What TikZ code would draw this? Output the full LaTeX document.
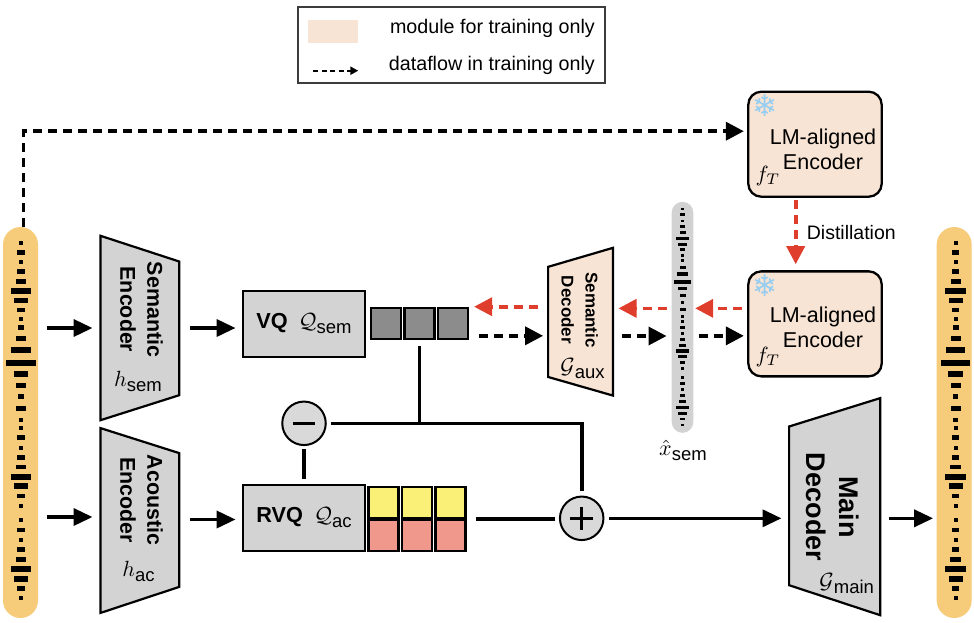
\RequirePackage{fix-cm}
\documentclass[tikz,border=0pt]{standalone}
\usepackage{graphicx}
\usepackage{fontspec}
\setmainfont{Liberation Sans}
\newfontfamily\dejavu{DejaVu Sans}
\usetikzlibrary{arrows.meta,calc}

\definecolor{peach}{RGB}{248,228,212}
\definecolor{boxgray}{RGB}{211,211,211}
\definecolor{codegray}{RGB}{140,140,140}
\definecolor{codeyellow}{RGB}{250,240,120}
\definecolor{codered}{RGB}{240,152,140}
\definecolor{myred}{RGB}{224,62,45}
\definecolor{pillorange}{RGB}{246,203,122}
\definecolor{circgray}{RGB}{217,217,217}
\definecolor{bargray}{RGB}{210,210,210}
\definecolor{snowblue}{RGB}{150,205,240}
\definecolor{legendgray}{RGB}{60,60,60}

\newcommand\sbs[1]{\raisebox{-5pt}{\fontsize{18.5}{19}\selectfont #1}}
\newcommand\fsz[2]{\fontsize{#1}{#2}\selectfont}
\newcommand\mth[1]{\scalebox{2.2}{\fontsize{10}{12}\selectfont$#1$}}

\newcommand\wavebars[4]{%
  \foreach \dy/\w in {0/4, 9.6/7.3, 19.6/4, 29/7.3, 39/10, 48.3/20.7, 58/14, 67.3/7.3,
     76.6/4, 85/6, 96/10, 107.3/19.3, 120/29.3, 131.3/14.7, 142.6/10, 154/5.3, 166/10,
     177.3/4.7, 185/4, 195/7.3, 205.3/4, 214.6/7.3, 224.3/10.7, 234/20.7, 243.3/14,
     253.3/7.3, 263/4, 277.3/4, 287.3/7.3, 297.3/4, 307/7.3, 316.6/10.7, 326.6/20.7,
     336.3/14, 346/7.3, 355.6/4}{%
    \pgfmathsetmacro\hh{(4+0.08*\w)*#4/2}%
    \fill ({#1-\w*#4/2},{#2+\dy*#3-\hh}) rectangle ({#1+\w*#4/2},{#2+\dy*#3+\hh});
  }%
}

\tikzset{
  line/.style={line width=3.6pt},
  flow/.style={line width=3.6pt,-{Triangle[length=19pt,width=17pt]}},
  dflow/.style={line width=3.6pt,dash pattern=on 9pt off 6pt,-{Triangle[length=18pt,width=18pt]}},
  rflow/.style={dflow,draw=myred},
  pill/.style={draw=none,inner sep=0pt,rounded corners=17.5pt},
  qbox/.style={draw,line width=2.3pt,fill=boxgray,inner sep=0pt,minimum width=122.6pt,minimum height=66pt},
  code/.style={draw,line width=2.2pt,inner sep=0pt,minimum width=30pt,minimum height=31pt},
  opcirc/.style={circle,draw,line width=2pt,fill=circgray,minimum size=43.5pt,inner sep=0pt},
  frame/.style={inner sep=0pt,draw=none},
  trap/.style={draw,line width=2.2pt,line join=miter},
  lmbox/.style={draw,line width=2.3pt,fill=peach,rounded corners=13pt,inner sep=0pt,minimum width=133.4pt,minimum height=105pt},
  lmtext/.style={align=center,font=\fsz{21.5}{25}},
  enctext/.style={rotate=-90,align=center,font=\bfseries\fsz{21.4}{27}},
  mathlbl/.style={font=\fsz{22}{22},inner sep=0pt},
  snow/.style={text=snowblue,font=\dejavu\fsz{30}{30},inner sep=0pt},
}

\begin{document}
\begin{tikzpicture}[x=1pt,y=-1pt]
\useasboundingbox (0,0) rectangle (974,622);

% ---------- legend ----------
\node[draw=legendgray,line width=1.5pt,minimum width=307pt,minimum height=76pt,inner sep=0pt] (legend) at (451.5,45) {};
\node[fill=peach,minimum width=50pt,minimum height=23.3pt,inner sep=0pt] (swatch) at (333.3,31.7) {};
\node[anchor=base east,font=\fsz{19.7}{24},inner sep=0pt] (legA) at (595,33.3) {module for training only};
\node[anchor=base east,font=\fsz{19.7}{24},inner sep=0pt] (legB) at (595,70.7) {dataflow in training only};
\coordinate (legS) at (313.3,70.7);
\coordinate (legE) at (358.3,70.7);
\draw[line width=2pt,dash pattern=on 5pt off 3.5pt,-{Triangle[length=8pt,width=8pt]}] (legS) -- (legE);

% ---------- waveforms ----------
\node[pill,fill=pillorange,minimum width=35pt,minimum height=391pt] (wavel) at (20.5,422.5) {};
\wavebars{21}{242.7}{1}{1}
\node[pill,fill=pillorange,minimum width=35pt,minimum height=391pt] (waver) at (954.2,422.5) {};
\wavebars{955.7}{242.7}{1}{1}
\node[pill,fill=bargray,rounded corners=10.8pt,minimum width=21.6pt,minimum height=231pt] (xbar) at (682.5,317.3) {};
\wavebars{682.5}{209}{0.607}{0.6}
\node[mathlbl] (xlbl) at (683,450) {\mth{\hat{x}}\sbs{sem}};

% ---------- encoders ----------
\node[frame,minimum width=78.3pt,minimum height=184pt] (semenc) at (139.85,328) {};
\draw[trap,fill=boxgray] (semenc.north west) -- ($(semenc.north east)+(0,25.7)$) -- ($(semenc.south east)+(0,-25)$) -- (semenc.south west) -- cycle;
\node[enctext] (semenctxt) at (141.5,309.5) {Semantic\\Encoder};
\node[mathlbl] (hsem) at (138,381.7) {\mth{h}\sbs{sem}};

\node[frame,minimum width=78.3pt,minimum height=184.4pt] (acenc) at (139.85,520.5) {};
\draw[trap,fill=boxgray] (acenc.north west) -- ($(acenc.north east)+(0,25)$) -- ($(acenc.south east)+(0,-26)$) -- (acenc.south west) -- cycle;
\node[enctext] (acenctxt) at (141.5,500) {Acoustic\\Encoder};
\node[mathlbl] (hac) at (138.5,571.7) {\mth{h}\sbs{ac}};

% ---------- quantizers ----------
\node[qbox] (vq) at (304,323.7) {\fsz{21.7}{26}\textbf{VQ}\hspace{11pt}\mth{\mathcal{Q}}\sbs{sem}};
\node[qbox] (rvq) at (304,518) {\fsz{21.7}{26}\textbf{RVQ}\hspace{11pt}\mth{\mathcal{Q}}\sbs{ac}};

\node[code,fill=codegray] (c1) at (386,323.8) {};
\node[code,fill=codegray] (c2) at (419.5,323.8) {};
\node[code,fill=codegray] (c3) at (453,323.8) {};

\node[code,fill=codeyellow] (y1) at (383.5,502.2) {};
\node[code,fill=codeyellow] (y2) at (417,502.2) {};
\node[code,fill=codeyellow] (y3) at (450.5,502.2) {};
\node[code,fill=codered] (r1) at (383.5,535.2) {};
\node[code,fill=codered] (r2) at (417,535.2) {};
\node[code,fill=codered] (r3) at (450.5,535.2) {};

% ---------- operators ----------
\node[opcirc] (minus) at (304,423.3) {};
\draw[line width=3pt] ([xshift=-11.3pt]minus.center) -- ([xshift=11.3pt]minus.center);
\node[opcirc] (plus) at (581.7,518.3) {};
\draw[line width=3pt] ([xshift=-11.5pt]plus.center) -- ([xshift=11.5pt]plus.center);
\draw[line width=3pt] ([yshift=-11.5pt]plus.center) -- ([yshift=11.5pt]plus.center);

% ---------- semantic decoder ----------
\node[frame,minimum width=64.4pt,minimum height=147.3pt] (semdec) at (580.5,321.7) {};
\draw[trap,fill=peach] ($(semdec.north west)+(0,19)$) -- (semdec.north east) -- (semdec.south east) -- ($(semdec.south west)+(0,-18.6)$) -- cycle;
\node[rotate=-90,align=center,font=\bfseries\fsz{17}{24}] (semdectxt) at (579.7,310) {Semantic\\Decoder};
\node[mathlbl] (gaux) at (582.5,369) {\mth{\mathcal{G}}\sbs{aux}};

% ---------- main decoder ----------
\node[frame,minimum width=90.7pt,minimum height=216.7pt] (maindec) at (834.65,506.65) {};
\draw[trap,fill=boxgray] ($(maindec.north west)+(0,28.4)$) -- (maindec.north east) -- (maindec.south east) -- ($(maindec.south west)+(0,-30)$) -- cycle;
\node[rotate=-90,align=center,font=\bfseries\fsz{27}{33}] (maindectxt) at (833,507) {Main\\Decoder};
\node[mathlbl] (gmain) at (846.7,583.3) {\mth{\mathcal{G}}\sbs{main}};

% ---------- LM-aligned encoders ----------
\node[lmbox] (lmtop) at (815,144.2) {};
\node[lmtext] (lmtoptxt) at (823,149) {LM-aligned\\Encoder};
\node[mathlbl] (ftop) at (768,176) {\mth{f_T}};
\node[snow] (snowtop) at (765,106) {❄};

\node[lmbox] (lmbot) at (815,323.85) {};
\node[lmtext] (lmbottxt) at (823,327.8) {LM-aligned\\Encoder};
\node[mathlbl] (fbot) at (768,357) {\mth{f_T}};
\node[snow] (snowbot) at (765,285.5) {❄};

% ---------- helper coordinates ----------
\coordinate (dA) at ([yshift=-12pt]c3.east);
\coordinate (rA) at ([yshift=15pt]semdec.west);
\coordinate (dB) at ([yshift=-14.3pt]semdec.east);
\coordinate (dC) at ([yshift=-12pt]lmbot.west);
\coordinate (rC) at ([yshift=15.5pt]lmbot.west);
\coordinate (topin) at ([yshift=13pt]lmtop.west);
\coordinate (dsrc) at ([xshift=3pt]wavel.north);
\coordinate (dsA) at ([xshift=-19.3pt]lmtop.south);
\coordinate (dsB) at ([xshift=-19.3pt]lmbot.north);
\coordinate (acin) at ([yshift=3.5pt]acenc.west);
\coordinate (acout) at ([yshift=1pt]acenc.east);

% ---------- solid connectors ----------
\draw[flow,shorten <=8.7pt,shorten >=8pt] (wavel.east |- semenc.west) -- (semenc.west);
\draw[flow,shorten <=8.7pt,shorten >=8pt] (wavel.east |- acin) -- (acin);
\draw[flow,shorten <=11pt,shorten >=6pt] (semenc.east) -- (semenc.east -| vq.west);
\draw[flow,shorten <=11pt,shorten >=6pt] (acout) -- (acout -| rvq.west);

\draw[line,shorten <=6pt] (c2.south) -- (c2.south |- minus.east);
\draw[line,shorten <=4pt,shorten >=5pt] (minus.east) -| (plus.north);
\draw[line,shorten <=3pt,shorten >=5pt] (minus.south) -- (rvq.north);
\draw[line,shorten <=9pt,shorten >=3.5pt] (y3.south east) -- (y3.south east -| plus.west);
\draw[flow,shorten <=4.6pt,shorten >=7.6pt] (plus.east) -- (plus.east -| maindec.west);
\draw[flow,shorten <=8.3pt,shorten >=3.4pt] (plus.east -| maindec.east) -- (plus.east -| waver.west);

% ---------- training-only connectors ----------
\draw[dflow,shorten >=3.3pt] (dsrc) |- (topin);
\draw[rflow,shorten <=2.3pt,shorten >=6pt] (dsA) -- (dsB);
\node[anchor=west,font=\fsz{19.5}{22},inner sep=0pt] (distlbl) at (806.7,232.3) {Distillation};

\draw[dflow,shorten <=10pt,shorten >=5pt] (dA) -- (dA -| semdec.west);
\draw[rflow,shorten <=10pt,shorten >=5pt] (rA) -- (rA -| c3.east);
\draw[dflow,shorten <=9pt,shorten >=5pt] (dB) -- (dB -| xbar.west);
\draw[dflow,shorten <=5pt,shorten >=3.3pt] (dC -| xbar.east) -- (dC);
\draw[rflow,shorten <=5pt,shorten >=1.7pt] (rC) -- (rC -| xbar.east);
\draw[rflow,shorten <=5pt,shorten >=5.6pt] (rC -| xbar.west) -- (rC -| semdec.east);
\end{tikzpicture}
\end{document}
